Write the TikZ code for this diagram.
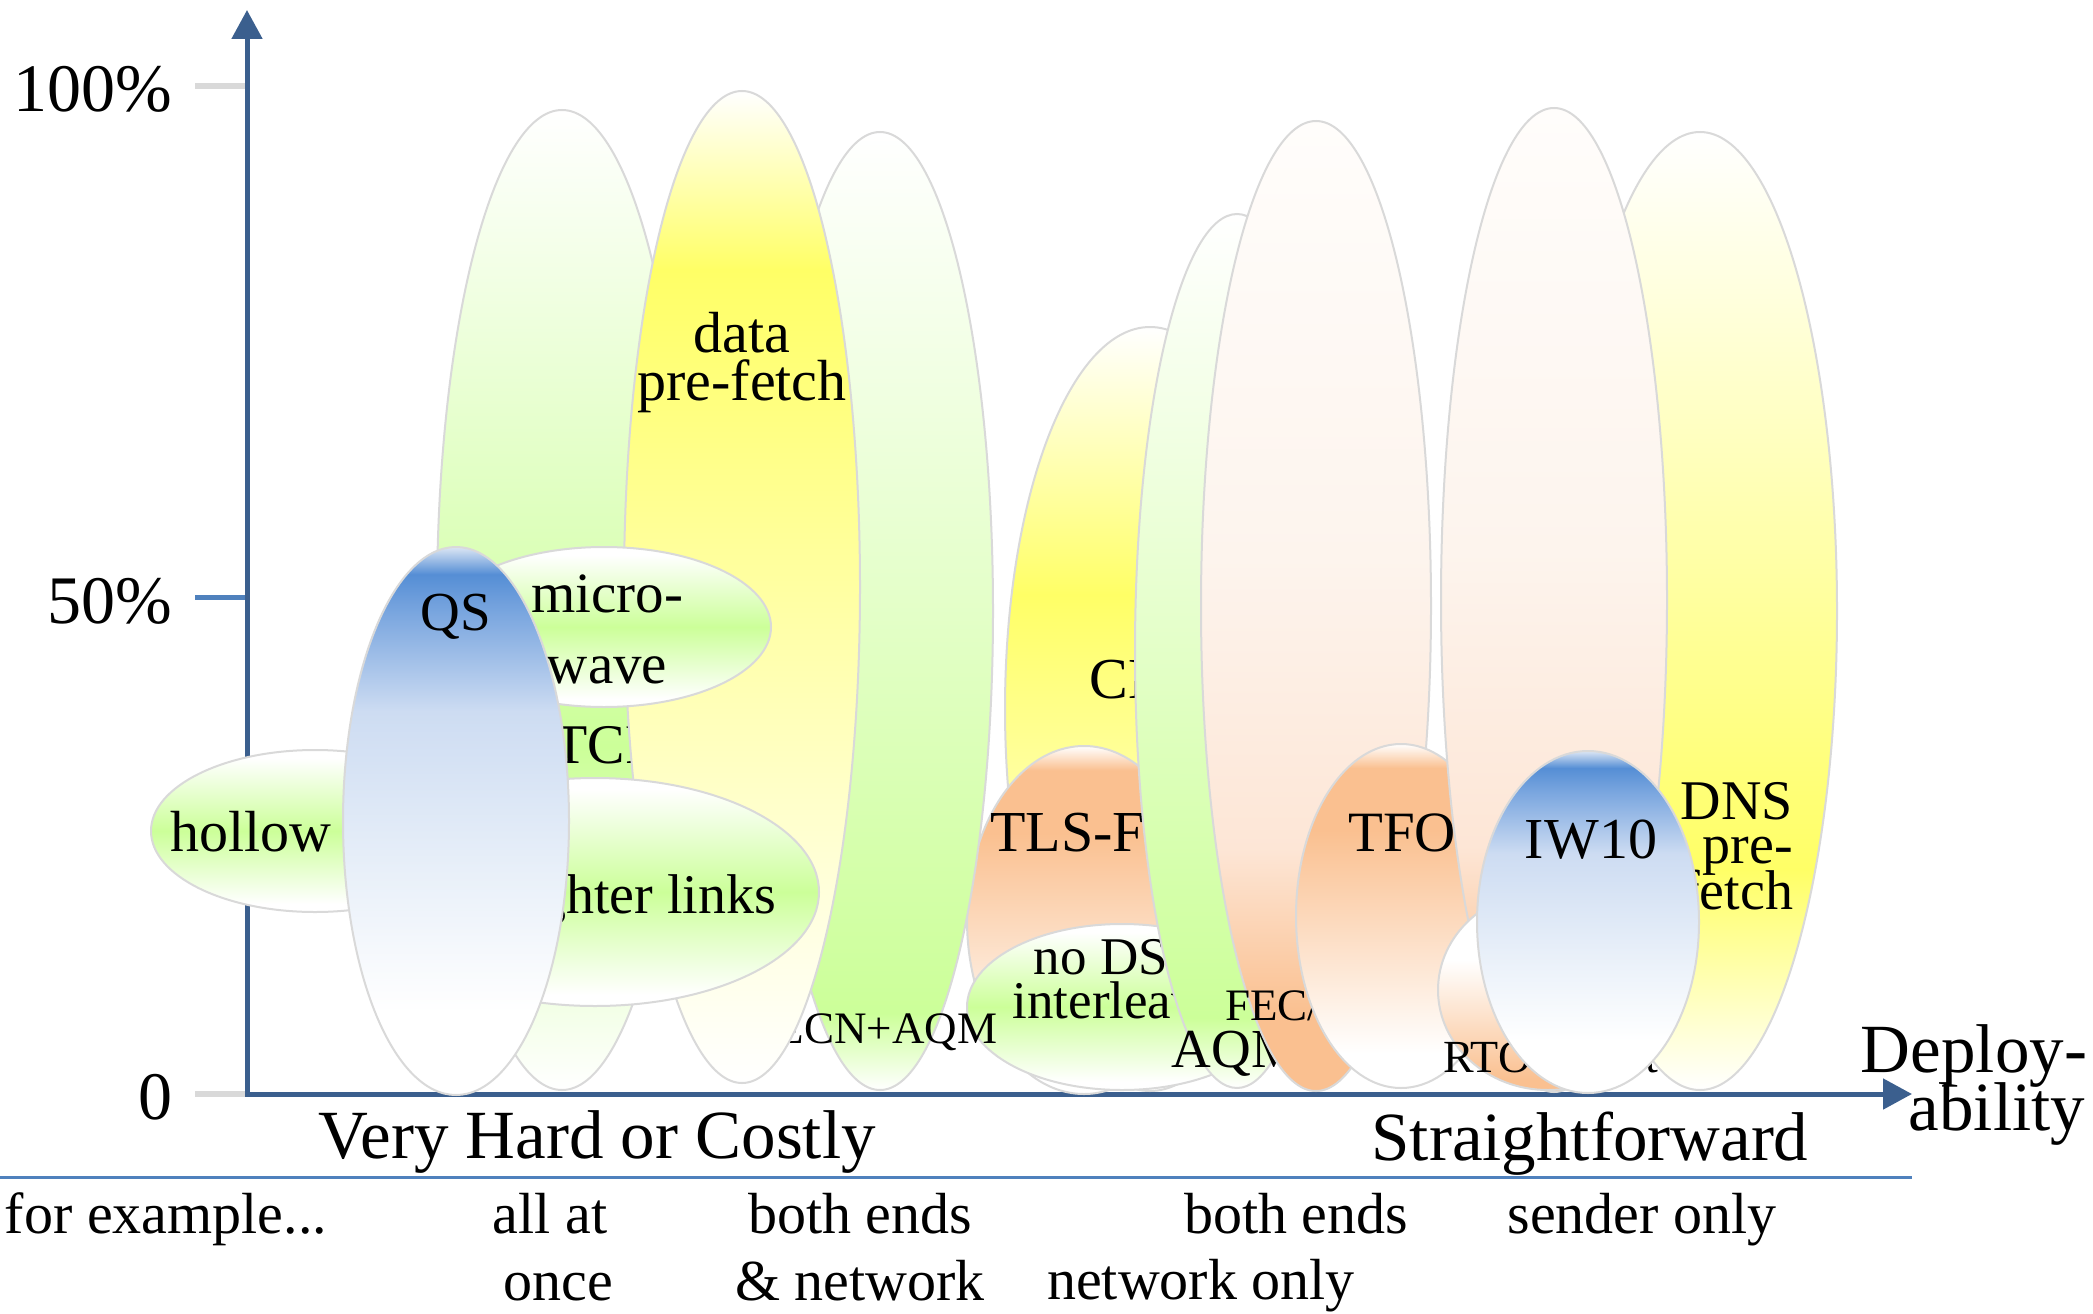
\documentclass[tikz,border=0pt]{standalone}
\usepackage{fontspec}
\setmainfont{Liberation Serif}
\usetikzlibrary{shapes.geometric,arrows.meta}
\definecolor{pgreen}{HTML}{CCFF99}
\definecolor{pyellow}{HTML}{FFFF66}
\definecolor{porange}{HTML}{FAC090}
\definecolor{pblue}{HTML}{558ED5}
\definecolor{outl}{HTML}{D9D9D9}
\definecolor{axblue}{HTML}{3B5F8E}
\definecolor{tickblue}{HTML}{4F81BD}
\definecolor{tickgrey}{HTML}{D9D9D9}
\definecolor{peachA}{HTML}{FFFDFB}
\definecolor{peachB}{HTML}{FDF4ED}
\definecolor{peachC}{HTML}{FDE6D6}
\definecolor{blueA}{HTML}{DCE6F4}
\definecolor{blueB}{HTML}{7AA6DF}
\definecolor{blueC}{HTML}{CDDCF2}
\definecolor{blueD}{HTML}{E9F0F9}
\pgfdeclareverticalshading{shTCP}{100bp}{color(0bp)=(white); color(25bp)=(white); color(42.5bp)=(pgreen); color(75bp)=(white); color(100bp)=(white)}
\pgfdeclareverticalshading{shGreenDown}{100bp}{color(0bp)=(white); color(25bp)=(white); color(29bp)=(pgreen); color(75bp)=(white); color(100bp)=(white)}
\pgfdeclareverticalshading{shGreenMid}{100bp}{color(0bp)=(white); color(27.5bp)=(white); color(50bp)=(pgreen); color(72.5bp)=(white); color(100bp)=(white)}
\pgfdeclareverticalshading{shYellowData}{100bp}{color(0bp)=(white); color(25bp)=(white); color(66bp)=(pyellow); color(75bp)=(white); color(100bp)=(white)}
\pgfdeclareverticalshading{shYellowCh}{100bp}{color(0bp)=(white); color(25bp)=(white); color(57.5bp)=(pyellow); color(75bp)=(white); color(100bp)=(white)}
\pgfdeclareverticalshading{shYellowDNS}{100bp}{color(0bp)=(white); color(25bp)=(white); color(36.5bp)=(pyellow); color(75bp)=(white); color(100bp)=(white)}
\pgfdeclareverticalshading{shOrange}{100bp}{color(0bp)=(white); color(30bp)=(white); color(62.5bp)=(porange); color(71.5bp)=(porange); color(75bp)=(white); color(100bp)=(white)}
\pgfdeclareverticalshading{shPeach}{100bp}{color(0bp)=(porange); color(29bp)=(porange); color(37.5bp)=(peachC); color(52.5bp)=(peachB); color(75bp)=(peachA); color(100bp)=(peachA)}
\pgfdeclareverticalshading{shRTO}{100bp}{color(0bp)=(porange); color(27.5bp)=(porange); color(57.5bp)=(white); color(100bp)=(white)}
\pgfdeclareverticalshading{shBlue}{100bp}{color(0bp)=(white); color(32.5bp)=(white); color(45bp)=(blueD); color(60bp)=(blueC); color(69bp)=(blueB); color(72.5bp)=(pblue); color(75bp)=(blueA); color(100bp)=(blueA)}
\newcommand\fsz[1]{\fontsize{#1pt}{#1pt}\selectfont}
\begin{document}
\begin{tikzpicture}[x=1pt, y=-1pt,
  ell/.style={ellipse, draw=outl, line width=2pt, inner sep=0pt, outer sep=0pt, shade},
  lbl/.style={anchor=base, inner sep=0pt, outer sep=0pt, text=black},
  axisline/.style={draw=axblue, line width=5pt, -{Triangle[length=29pt,width=30pt]}},
  greytick/.style={draw=tickgrey, line width=6pt},
  bluetick/.style={draw=tickblue, line width=5pt}]
\useasboundingbox (0,0) rectangle (2093,1314);
\fill[white] (0,0) rectangle (2093,1314);
% axes
\coordinate (org) at (247,1094);
\coordinate (orgx) at (244.5,1094);
\coordinate (ytip) at (247,10);
\coordinate (xtip) at (1912,1094);
\draw[axisline] (org) -- (ytip);
\draw[axisline] (orgx) -- (xtip);
\coordinate (t100a) at (195,86);  \coordinate (t100b) at (244.5,86);
\coordinate (t50a) at (195,597);  \coordinate (t50b) at (244.5,597);
\coordinate (t0a) at (195,1094);  \coordinate (t0b) at (244.5,1094);
\draw[greytick] (t100a) -- (t100b);
\draw[bluetick] (t50a) -- (t50b);
\draw[greytick] (t0a) -- (t0b);
\node[lbl, anchor=base east, font=\fsz{68}] (l100) at (172,111) {100\%};
\node[lbl, anchor=base east, font=\fsz{68}] (l50) at (172,623) {50\%};
\node[lbl, anchor=base east, font=\fsz{68}] (l0) at (172,1119) {0};
% lower middle shapes drawn first (they lie under ECN+AQM text)
\node[ell, shading=shYellowCh, minimum width=290pt, minimum height=764pt] (eCDN) at (1150,709) {};
\node[lbl, font=\fsz{58}] (tCDN) at (1151,698) {CDN};
\node[ell, shading=shOrange, minimum width=234pt, minimum height=348pt] (eTLS) at (1084,920) {};
\node[lbl, font=\fsz{58}] (tTLS) at (1084,851) {TLS-FS};
\node[ell, shading=shGreenMid, minimum width=310pt, minimum height=166pt] (eDSL) at (1122,1007) {};
\node[lbl, font=\fsz{53}] (tDSL1) at (1117,974) {no DSL};
\node[lbl, font=\fsz{53}] (tDSL2) at (1117,1018) {interleave};
% left cluster
\node[ell, shading=shTCP, minimum width=250pt, minimum height=980pt] (eTCP) at (562,600) {};
\node[lbl, font=\fsz{56}] (tTCP) at (605,763) {TCP};
\node[ell, shading=shGreenDown, minimum width=226pt, minimum height=958pt] (eECN) at (880,611) {};
\node[lbl, font=\fsz{45}] (tECN) at (887,1043) {ECN+AQM};
\node[ell, shading=shYellowData, minimum width=236pt, minimum height=992pt] (eDATA) at (742,587) {};
\node[lbl, font=\fsz{58}] (tData1) at (742,352) {data};
\node[lbl, font=\fsz{58}] (tData2) at (742,400) {pre-fetch};
\node[ell, shading=shGreenMid, minimum width=334pt, minimum height=160pt] (eMW) at (604,627) {};
\node[lbl, font=\fsz{57}] (tMW1) at (607,612) {micro-};
\node[lbl, font=\fsz{57}] (tMW2) at (607,683) {wave};
\node[ell, shading=shGreenMid, minimum width=448pt, minimum height=228pt] (eLL) at (595,892) {};
\node[lbl, anchor=base east, font=\fsz{56}] (tLL) at (776,913) {lighter links};
\node[ell, shading=shGreenMid, minimum width=328pt, minimum height=162pt] (eHOL) at (315,831) {};
\node[lbl, font=\fsz{58}] (tHOL) at (251,851) {hollow};
\node[ell, shading=shBlue, minimum width=226pt, minimum height=548pt] (eQS) at (456,821) {};
\node[lbl, font=\fsz{55}] (tQS) at (456,630) {QS};
% middle cluster, upper layers
\node[ell, shading=shGreenDown, minimum width=204pt, minimum height=874pt] (eAQM) at (1237,651) {};
\node[lbl, font=\fsz{55}] (tAQM) at (1236,1067) {AQM};
\node[ell, shading=shPeach, minimum width=230pt, minimum height=970pt] (eFEC) at (1316,606) {};
\node[lbl, anchor=base west, font=\fsz{45}] (tFEC) at (1225,1020) {FEC/ARQ};
\node[ell, shading=shOrange, minimum width=210pt, minimum height=344pt] (eTFO) at (1401,916) {};
\node[lbl, font=\fsz{57}] (tTFO) at (1402,851) {TFO};
% right cluster
\node[ell, shading=shYellowDNS, minimum width=274pt, minimum height=958pt] (eDNS) at (1700,611) {};
\node[lbl, anchor=base east, font=\fsz{56}] (tDNS1) at (1793,819) {DNS};
\node[lbl, anchor=base east, font=\fsz{56}] (tDNS2) at (1793,863) {pre-};
\node[lbl, anchor=base east, font=\fsz{56}] (tDNS3) at (1793,909) {fetch};
\node[ell, shading=shPeach, minimum width=226pt, minimum height=984pt] (eSND) at (1554,600) {};
\node[ell, shading=shRTO, minimum width=220pt, minimum height=200pt] (eRTO) at (1548,990) {};
\node[lbl, anchor=base west, font=\fsz{46}] (tRTO) at (1443,1072) {RTO restart};
\node[ell, shading=shBlue, minimum width=222pt, minimum height=342pt] (eIW) at (1588,922) {};
\node[lbl, font=\fsz{58}] (tIW) at (1591,858) {IW10};
% axis captions
\node[lbl, font=\fsz{69}] (cHard) at (597,1158) {Very Hard or Costly};
\node[lbl, font=\fsz{69}] (cEasy) at (1590,1160) {Straightforward};
\node[lbl, anchor=base east, font=\fsz{69}] (cDep1) at (2087,1072) {Deploy-};
\node[lbl, anchor=base east, font=\fsz{69}] (cDep2) at (2085,1130) {ability};
\coordinate (sepL) at (0,1177);
\coordinate (sepR) at (1912,1177);
\draw[tickblue, line width=3pt] (sepL) -- (sepR);
\node[lbl, font=\fsz{58}] (bEx) at (166,1233) {for example...};
\node[lbl, font=\fsz{58}] (bAll1) at (550,1233) {all at};
\node[lbl, font=\fsz{58}] (bAll2) at (558,1300) {once};
\node[lbl, font=\fsz{58}] (bBoth1) at (860,1233) {both ends};
\node[lbl, font=\fsz{58}] (bBoth2) at (860,1300) {\& network};
\node[lbl, font=\fsz{58}] (bNet1) at (1296,1233) {both ends};
\node[lbl, font=\fsz{58}] (bNet2) at (1201,1299) {network only};
\node[lbl, font=\fsz{58}] (bSnd) at (1642,1233) {sender only};
\end{tikzpicture}
\end{document}
